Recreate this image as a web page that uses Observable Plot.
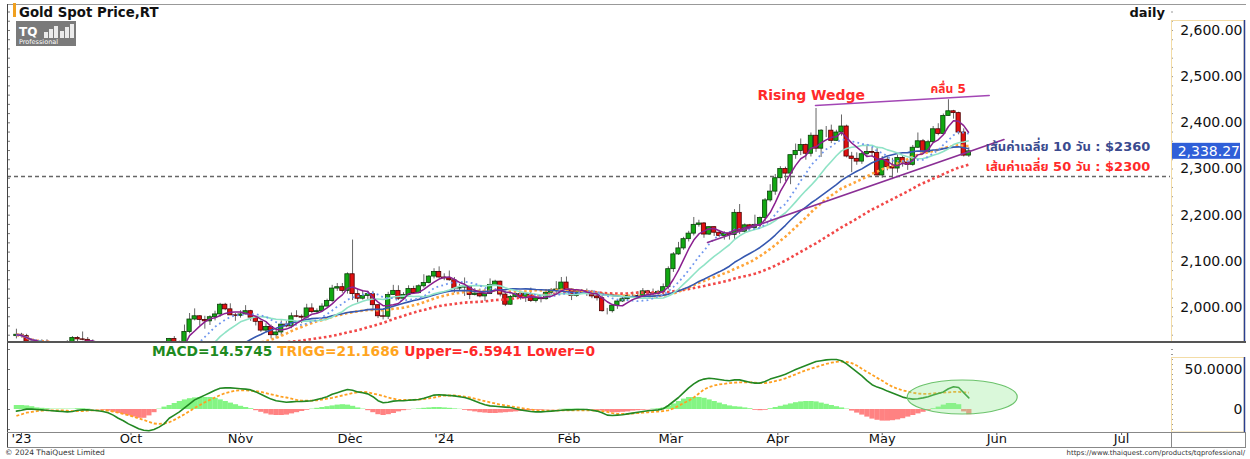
<!DOCTYPE html>
<html><head><meta charset="utf-8">
<script src="https://cdn.jsdelivr.net/npm/d3@7"></script>
<script src="https://cdn.jsdelivr.net/npm/@observablehq/plot@0.6"></script>
<style>
body{margin:0;background:#fff;}
#wrap{position:relative;width:1250px;height:459px;overflow:hidden;background:#fff;font-family:"DejaVu Sans",Verdana,sans-serif;}
#wrap > *{position:absolute;}
</style></head><body><div id="wrap"></div>
<script>
// ---- Daily candles, trading-day index 0 = 1 Sep 2023 ... 187 = 24 May 2024 ----
const openP = [1938,1941,1938,1926,1916,1919,1919,1922,1913,1908,1910,1924,1934,1931,1930,1919,1925,1916,1901,1875,
1864,1849,1827,1822,1821,1820,1833,1861,1860,1874,1868,1932,1920,1923,1947,1974,1981,1973,1970,1979,
1985,2006,1996,1983,1982,1985,1992,1978,1969,1950,1958,1940,1946,1963,1959,1981,1980,1978,1998,1990,
1992,2002,2014,2041,2044,2036,2072,2029,2019,2025,2029,2005,1981,1980,2027,2036,2019,2027,2040,2031,
2046,2053,2067,2077,2065,2063,2059,2041,2043,2045,2027,2030,2024,2029,2049,2056,2028,2006,2023,2029,
2021,2029,2014,2020,2018,2032,2037,2039,2054,2039,2025,2035,2035,2034,2024,2020,1992,1992,2004,2013,
2018,2025,2025,2024,2035,2031,2030,2034,2044,2083,2115,2128,2148,2160,2179,2182,2158,2174,2162,2155,
2160,2157,2205,2164,2178,2172,2179,2194,2232,2251,2280,2300,2290,2330,2339,2352,2333,2372,2344,2383,
2383,2361,2379,2392,2327,2322,2316,2332,2337,2335,2286,2320,2304,2301,2324,2314,2309,2346,2360,2336,
2358,2386,2376,2415,2425,2421,2379,2329];
const highP = [1953,1944,1942,1930,1924,1930,1930,1926,1918,1916,1928,1937,1937,1947,1935,1930,1926,1917,1903,1879,
1880,1850,1832,1825,1823,1834,1865,1867,1876,1885,1933,1937,1927,1962,1987,1997,1982,1981,1982,1992,
2009,2009,2008,1987,1993,2004,1994,1980,1971,1965,1962,1950,1971,1970,1988,1993,1984,2007,2008,1997,
2008,2018,2048,2052,2052,2075,2146,2040,2037,2035,2035,2006,1993,2033,2048,2047,2032,2047,2046,2049,
2071,2069,2084,2088,2073,2079,2065,2050,2064,2046,2041,2040,2040,2062,2059,2057,2031,2026,2034,2033,
2032,2042,2023,2024,2036,2041,2056,2065,2066,2040,2039,2039,2040,2037,2033,2032,1998,2006,2016,2023,
2031,2033,2034,2041,2037,2040,2037,2051,2088,2119,2141,2152,2165,2195,2189,2184,2175,2175,2167,2164,
2163,2212,2223,2181,2180,2200,2196,2236,2266,2288,2305,2304,2330,2354,2365,2354,2378,2431,2385,2392,
2395,2384,2417,2395,2336,2335,2337,2352,2346,2347,2327,2326,2323,2330,2327,2318,2351,2378,2364,2362,
2392,2398,2419,2450,2427,2423,2387,2346];
const lowP = [1932,1934,1923,1915,1913,1915,1915,1908,1906,1901,1908,1922,1926,1928,1913,1915,1912,1897,1873,1857,
1846,1826,1815,1816,1813,1810,1833,1852,1857,1866,1867,1908,1909,1920,1943,1971,1960,1953,1961,1971,
1979,1993,1983,1970,1977,1984,1970,1960,1946,1946,1932,1932,1938,1956,1954,1978,1965,1975,1987,1987,
1989,2001,2011,2035,2031,2029,2015,2010,2016,2017,1993,1976,1973,1974,2026,2015,2016,2022,2028,2030,
2042,2051,2062,2063,2058,2057,2031,2035,2024,2017,2025,2021,2013,2028,2046,2023,2002,2005,2021,2016,
2011,2011,2010,2010,2016,2027,2030,2032,2034,2015,2022,2029,2024,2019,2014,1990,1984,1988,1996,2011,
2013,2020,2021,2022,2026,2025,2025,2025,2038,2076,2113,2124,2142,2155,2174,2150,2156,2154,2152,2146,
2146,2146,2158,2160,2168,2168,2173,2186,2228,2243,2268,2273,2266,2321,2329,2319,2326,2336,2325,2368,
2355,2360,2371,2324,2292,2308,2310,2325,2326,2285,2280,2296,2277,2291,2304,2297,2306,2345,2332,2335,
2355,2372,2374,2415,2408,2374,2326,2325];
const closeP = [1941,1938,1926,1916,1919,1919,1922,1913,1908,1910,1924,1934,1931,1930,1919,1925,1916,1901,1875,1864,
1849,1827,1822,1821,1820,1833,1861,1860,1874,1868,1932,1920,1923,1947,1974,1981,1973,1970,1979,1985,
2006,1996,1983,1982,1985,1992,1978,1969,1950,1958,1940,1946,1963,1959,1981,1980,1978,1998,1990,1992,
2002,2014,2041,2044,2036,2072,2029,2019,2025,2029,2005,1981,1980,2027,2036,2019,2027,2040,2031,2046,
2053,2067,2077,2065,2063,2059,2041,2043,2045,2027,2030,2024,2029,2049,2056,2028,2006,2023,2029,2021,
2029,2014,2020,2018,2032,2037,2039,2054,2039,2025,2035,2035,2034,2024,2020,1992,1992,2004,2013,2018,
2025,2025,2024,2035,2031,2030,2034,2044,2083,2115,2128,2148,2160,2179,2182,2158,2174,2162,2155,2160,
2157,2205,2164,2178,2172,2179,2194,2232,2251,2280,2300,2290,2330,2339,2352,2333,2372,2344,2383,2383,
2361,2379,2392,2327,2322,2316,2332,2337,2335,2286,2320,2304,2301,2324,2314,2309,2346,2360,2336,2358,
2386,2376,2415,2425,2421,2379,2329,2338.27];

// ---- MACD panel values (per trading day) ----
const macdV = [-2,-1,0.5,0.5,0,-0.5,-1,-1.5,-2,-2.5,
-3,-2.5,-1,-0.5,-0.5,-1,-1.5,-2.5,-4,-7,
-11,-14,-18,-21,-24,-26,-26.5,-25,-22,-18,
-11,-7,-3,2,7,12,15,18,21,24,
26.5,27,27,26.5,26,25.5,24.5,22,19,16,
13,11,10,9,9.5,10,10,10.5,11,12.5,
14,16,19,21,23,25,24,22,21,19.5,
16,11,8.5,9,10.5,11,11,11.5,12,12.5,
14,16,18,18.5,18,17.5,17,16,15,13,
10.5,8,6,4.5,4,3.5,3,2.5,1,-0.5,
-1.5,-2.5,-3,-3,-2.5,-2,-1.5,-1,-0.5,-0.5,
0,0,0,-1,-2,-4,-7,-7.5,-7,-6.5,
-5.5,-4.5,-3.5,-2.5,-1.5,-1,-0.5,1,5,10,
15,21,27,32,36,38,39,38.5,37.5,36.5,
36,37,37,35.5,34,33,33,35,38,40,
42,44,47,50,52.5,55,57.5,60,61,62,
62.5,62.5,61,57,52,47,42,36,31,28,
26,23,20.5,18,15.5,14,13,13.5,14.5,16,
18,20,22,26,28.5,27.5,21,14.5745];
const triggV = [-8,-6,-4,-3,-2,-1.5,-1,-1,-1,-1,
-1.5,-2,-2,-2,-1.5,-1,-1,-1,-1.5,-2.5,
-4,-5.5,-7,-9,-11,-13,-15.5,-17.5,-18,-17.5,
-16,-13,-9.5,-6,-2,2,5.5,9,12,15,
18,20.5,22,23.5,24,24,23.5,23,22,20.5,
19,17.5,16,15,13.5,12,11,11,11,11.5,
12.5,13.5,14.5,16,17.5,19,20.5,21.5,22,21.5,
20,18.5,17,15,13.5,12,12,12,12,12.5,
13,14,15,16.5,17.5,17.5,17.5,17,16,15,
13.5,12,10.5,9,7.5,6,5,4,3,2,
1,0,-1,-1.5,-1.5,-1.5,-1.5,-1,-1,-1,
-1,-1,-1,-1,-1.5,-2,-3,-4.5,-5.5,-5.5,
-5.5,-5,-4.5,-4,-3.5,-3,-2.5,-2,-1,1.5,
4.5,8,11,15,20,25,28,30,31.5,32,
33,33.5,34,34,34,33.5,33,33,34,35.5,
37,39,41.5,44,46.5,49,51,53,55,57,
58.5,59.5,60,59.5,58,55,51,47,43.5,39.5,
36,32,28.5,26,24,22.5,21,20,19.5,19.5,
20,20.5,21,21.5,22,22,21.5,21.1686];
const histV = [5,5,4.5,3.5,2,1.5,1,0.5,0.5,0.5,
0.5,0.5,1,1,0.5,0,-0.5,-1,-2,-3.5,
-5,-6.5,-8,-9.5,-11,-11,-8,-4,0.5,3,
5,7.5,10,12,13.5,14.5,15,15,15,14,
12,10,8,6,4,2.5,1,-1.5,-3.5,-5.5,
-7,-7.5,-7.5,-7,-5.5,-4,-2.5,-1,0.5,1.5,
2.5,3.5,4.5,5.5,6,5.5,4,2,0.5,-1.5,
-4,-6.5,-7.5,-6.5,-5,-3,-1.5,-0.5,0.3,0.8,
1.5,2,2.5,2.5,2,1.5,0.8,0.3,-1,-2,
-3,-4,-4.5,-5,-5,-4.5,-4,-3.5,-3,-2.5,
-2,-1.5,-1,-1,-0.5,-0.3,-0.2,0.3,0.5,0.5,
0.5,0.3,0,-0.5,-1,-2,-3,-4,-4,-3.5,
-3,-2,-1.5,-1,-0.5,0.5,1,2,4,7,
10,13,15,15,15,14,12,10,8,6,
4.5,3.5,3,2,1,-1,-1.5,-1,1,2.5,
4,5.5,7,8.5,9.5,10,10,9.5,8,6.5,
5,3.5,2,0.5,-2,-4.5,-7,-9.5,-12,-13.5,
-14.5,-14.5,-14,-13,-11.5,-9.5,-7.5,-5.5,-3.5,-1.5,
1,3,5.5,7.5,7.5,6,-3,-6.5941];

// ---- axes / ticks ----
const monthTickPos = [1, 22.5, 44, 65.5, 84, 108.5, 128.5, 149.5, 170, 192.5, 217];
const monthLabels = ["'23","Oct","Nov","Dec","'24","Feb","Mar","Apr","May","Jun","Jul"];
const priceTicks = [2000, 2100, 2200, 2300, 2400, 2500, 2600];
const macdTicks = [0, 50];

// ---- moving-average styles and annotations ----
const maSpecs = [
  {k: 50, color: "#f24848", w: 2.6, dash: "2.6,2.6"},
  {k: 30, color: "#ffa53a", w: 2.6, dash: "2.6,2.6"},
  {k: 25, color: "#3658b0", w: 1.6, dash: null},
  {k: 15, color: "#8fe3c6", w: 1.6, dash: null},
  {k: 10, color: "#6f96ee", w: 1.8, dash: "1.8,3.2"},
  {k: 5,  color: "#8a1f8f", w: 1.5, dash: null}
];
const wedgeUpper = [{i: 156.9, p: 2437.5}, {i: 191.0, p: 2459.1}];
const wedgeLower = [{i: 135.7, p: 2140.8}, {i: 193.9, p: 2363.9}];
const supportLevel = [2283.7];
const lastPrice = 2338.27;
const notes = [
  {i: 145.5, p: 2459, text: "Rising Wedge", color: "#ff2a2a", size: 14},
  {i: 179.5, p: 2472, text: "คลื่น 5", color: "#ff2a2a", size: 12},
  {i: 190.3, p: 2348.7, text: "เส้นค่าเฉลี่ย 10 วัน : $2360", color: "#3a4a8e", size: 13},
  {i: 190.3, p: 2305.4, text: "เส้นค่าเฉลี่ย 50 วัน : $2300", color: "#ff2a2a", size: 13}
];
const macdCircle = {i: 185.8, v: 15};

// ---- build ----
const rows = closeP.map((c, i) => ({i, open: openP[i], high: highP[i], low: lowP[i], close: c,
  macd: macdV[i], trigg: triggV[i], hist: histV[i]}));
const up = rows.filter(d => d.close >= d.open);
const down = rows.filter(d => d.close < d.open);

const FONT = '"DejaVu Sans", Verdana, sans-serif';
const THAI = '"DejaVu Sans", "Noto Sans Thai", Tahoma, Loma, Garuda, sans-serif';
const xDomain = [-1.75, 226.6];
const wrap = document.getElementById("wrap");

const main = Plot.plot({
  width: 1250, height: 343,
  marginLeft: 7, marginRight: 80, marginTop: 5, marginBottom: 1,
  style: {fontFamily: FONT, background: "transparent", overflow: "visible", color: "#111"},
  x: {type: "linear", domain: xDomain, axis: null, label: null},
  y: {domain: [1924.2, 2654.1], label: null},
  marks: [
    Plot.ruleY(supportLevel, {stroke: "#666", strokeDasharray: "4,3", strokeWidth: 1.4}),
    Plot.ruleX(rows, {x: "i", y1: "low", y2: "high", stroke: "#666", strokeWidth: 1, clip: true}),
    Plot.rect(up, {x1: d => d.i - 0.42, x2: d => d.i + 0.42, y1: "open", y2: "close", fill: "#12a812", stroke: "#0b3f0b", strokeWidth: 0.8, clip: true}),
    Plot.rect(down, {x1: d => d.i - 0.42, x2: d => d.i + 0.42, y1: "open", y2: "close", fill: "#e01010", stroke: "#4a0000", strokeWidth: 0.8, clip: true}),
    ...maSpecs.map(s => Plot.lineY(rows, Plot.windowY({k: s.k, anchor: "end"}, {x: "i", y: "close", stroke: s.color, strokeWidth: s.w, strokeDasharray: s.dash, strokeLinecap: "butt", clip: true}))),
    Plot.line(wedgeUpper, {x: "i", y: "p", stroke: "#a347b5", strokeWidth: 1.6}),
    Plot.line(wedgeLower, {x: "i", y: "p", stroke: "#8a2f95", strokeWidth: 1.6}),
    ...notes.map(n => Plot.text([n], {x: "i", y: "p", text: "text", fill: n.color, fontSize: n.size, fontWeight: "bold", textAnchor: "start",
        fontFamily: /[\u0E00-\u0E7F]/.test(n.text) ? THAI : FONT})),
    Plot.axisY({anchor: "right", ticks: priceTicks, tickFormat: d3.format(",.2f"), tickSize: 0, tickPadding: 0, textAnchor: "end", dx: 72, fontSize: 14, fill: "#111"}),
    Plot.axisY({anchor: "right", ticks: d3.range(1940, 2660, 20), tickFormat: () => "", tickSize: 2, stroke: "#999"}),
    Plot.axisY({anchor: "left", ticks: d3.range(1940, 2660, 20), tickFormat: () => "", tickSize: 3, dx: 3, stroke: "#777"})
  ]
});
main.style.left = "0px"; main.style.top = "0px";
wrap.appendChild(main);

const macdPlot = Plot.plot({
  width: 1250, height: 106,
  marginLeft: 7, marginRight: 80, marginTop: 1, marginBottom: 17,
  style: {fontFamily: FONT, background: "transparent", overflow: "visible", color: "#111"},
  x: {type: "linear", domain: xDomain, label: null},
  y: {domain: [-28.75, 81.25], label: null},
  marks: [
    Plot.ruleX(rows.filter(d => d.hist >= 0), {x: "i", y1: 0, y2: "hist", stroke: "#84f584", strokeWidth: 5.3}),
    Plot.ruleX(rows.filter(d => d.hist < 0), {x: "i", y1: 0, y2: "hist", stroke: "#ff8282", strokeWidth: 5.3}),
    Plot.lineY(rows, {x: "i", y: "trigg", stroke: "#ffa020", strokeWidth: 1.8, strokeDasharray: "3,2", strokeLinecap: "butt"}),
    Plot.lineY(rows, {x: "i", y: "macd", stroke: "#238823", strokeWidth: 1.6}),
    Plot.axisY({anchor: "right", ticks: macdTicks, tickFormat: d => d === 0 ? "0" : d3.format(".4f")(d), tickSize: 0, tickPadding: 0, textAnchor: "end", dx: 72, fontSize: 14, fill: "#111"}),
    Plot.axisY({anchor: "right", ticks: d3.range(-25, 80, 6.25), tickFormat: () => "", tickSize: 2, stroke: "#999"}),
    Plot.axisY({anchor: "left", ticks: [-25, 0, 25, 50, 75], tickFormat: () => "", tickSize: 3, dx: 3, stroke: "#777"}),
    Plot.axisX({anchor: "bottom", ticks: monthTickPos, tickFormat: d => monthLabels[monthTickPos.indexOf(d)], tickSize: 0, tickPadding: 1.5, fontSize: 13, fill: "#111"}),
    Plot.axisX({anchor: "bottom", ticks: monthTickPos, tickFormat: () => "", tickSize: 3, stroke: "#555"})
  ]
});
macdPlot.style.left = "0px"; macdPlot.style.top = "343px";
wrap.appendChild(macdPlot);

// ellipse highlight on MACD panel (positioned with the plot's scales)
{
  const sx = macdPlot.scale("x"), sy = macdPlot.scale("y");
  d3.select(macdPlot).append("ellipse")
    .attr("cx", sx.apply(macdCircle.i)).attr("cy", sy.apply(macdCircle.v))
    .attr("rx", 55).attr("ry", 17)
    .attr("fill", "rgba(150,235,150,0.35)").attr("stroke", "#6cc36c").attr("stroke-width", 1.2);
}

// ---- frame decorations ----
const ov = d3.select(wrap).append("svg").attr("width", 1250).attr("height", 459)
  .style("left", "0px").style("top", "0px").style("pointer-events", "none");
const yMain = main.scale("y");
ov.append("rect").attr("x", 1171.5).attr("y", 20.5).attr("width", 72.5).attr("height", 321.5)
  .attr("fill", "none").attr("stroke", "#f3dca6");
ov.append("rect").attr("x", 1171.5).attr("y", 357.5).attr("width", 72.5).attr("height", 74.5)
  .attr("fill", "none").attr("stroke", "#f3dca6");
ov.append("line").attr("x1", 1244.5).attr("x2", 1244.5).attr("y1", 20).attr("y2", 342).attr("stroke", "#2a3f8f").attr("stroke-width", 1.5);
ov.append("line").attr("x1", 1244.5).attr("x2", 1244.5).attr("y1", 357).attr("y2", 432).attr("stroke", "#2a3f8f").attr("stroke-width", 1.5);
ov.append("line").attr("x1", 7).attr("x2", 1246).attr("y1", 4.5).attr("y2", 4.5).attr("stroke", "#999");
ov.append("line").attr("x1", 7.5).attr("x2", 7.5).attr("y1", 4).attr("y2", 448).attr("stroke", "#444");
ov.append("line").attr("x1", 7).attr("x2", 1246).attr("y1", 342).attr("y2", 342).attr("stroke", "#555").attr("stroke-width", 2);
ov.append("line").attr("x1", 7).attr("x2", 1246).attr("y1", 432.5).attr("y2", 432.5).attr("stroke", "#888");
ov.append("line").attr("x1", 7).attr("x2", 1246).attr("y1", 447.5).attr("y2", 447.5).attr("stroke", "#888");
ov.append("line").attr("x1", 1171.5).attr("x2", 1171.5).attr("y1", 432).attr("y2", 448).attr("stroke", "#888");
ov.append("line").attr("x1", 1245.5).attr("x2", 1245.5).attr("y1", 432).attr("y2", 448).attr("stroke", "#888");
{
  const py = yMain.apply(lastPrice);
  ov.append("rect").attr("x", 1172).attr("y", py - 8).attr("width", 68).attr("height", 16).attr("fill", "#2f5fd8");
  ov.append("text").attr("x", 1240).attr("y", py + 5).attr("text-anchor", "end").attr("fill", "#fff")
    .attr("font-size", 14).attr("font-family", FONT).text(d3.format(",.2f")(lastPrice));
}
ov.append("rect").attr("x", 13).attr("y", 3).attr("width", 3).attr("height", 14).attr("fill", "#f0a020");
ov.append("text").attr("x", 19).attr("y", 17).attr("font-size", 13.3).attr("font-weight", "bold").attr("font-family", FONT).attr("fill", "#111").text("Gold Spot Price,RT");
ov.append("text").attr("x", 1165).attr("y", 17).attr("text-anchor", "end").attr("font-size", 13).attr("font-weight", "bold").attr("font-family", FONT).attr("fill", "#111").text("daily");
{
  const g = ov.append("g").attr("transform", "translate(16,21)");
  g.append("rect").attr("width", 60).attr("height", 25).attr("fill", "#7a7a7a");
  g.append("text").attr("x", 3).attr("y", 15).attr("font-size", 12).attr("font-weight", "bold").attr("fill", "#fff").attr("font-family", FONT).text("TQ");
  [[28,9,4,6],[33,6,4,9],[38,3,4,12],[44,8,4,7],[49,4,4,11],[54,1,4,14]].forEach(([x,y,w,h]) =>
    g.append("rect").attr("x", x).attr("y", y + 2).attr("width", w).attr("height", h).attr("fill", "#fff").attr("opacity", 0.85));
  g.append("text").attr("x", 3).attr("y", 23).attr("font-size", 6.5).attr("fill", "#fff").attr("font-family", FONT).text("Professional");
}
{
  const t = ov.append("text").attr("x", 152).attr("y", 356).attr("font-size", 13.8).attr("font-weight", "bold").attr("font-family", FONT);
  t.append("tspan").attr("fill", "#1f8a1f").text("MACD=14.5745 ");
  t.append("tspan").attr("fill", "#ffa51f").text("TRIGG=21.1686 ");
  t.append("tspan").attr("fill", "#ff2a2a").text("Upper=-6.5941 Lower=0");
}
ov.append("text").attr("x", 5).attr("y", 455).attr("font-size", 7.5).attr("fill", "#333").attr("font-family", FONT).text("© 2024 ThaiQuest Limited");
ov.append("text").attr("x", 1245).attr("y", 455).attr("text-anchor", "end").attr("font-size", 6.9).attr("fill", "#333").attr("font-family", FONT).text("https://www.thaiquest.com/products/tqprofessional/");
</script>
</body></html>
